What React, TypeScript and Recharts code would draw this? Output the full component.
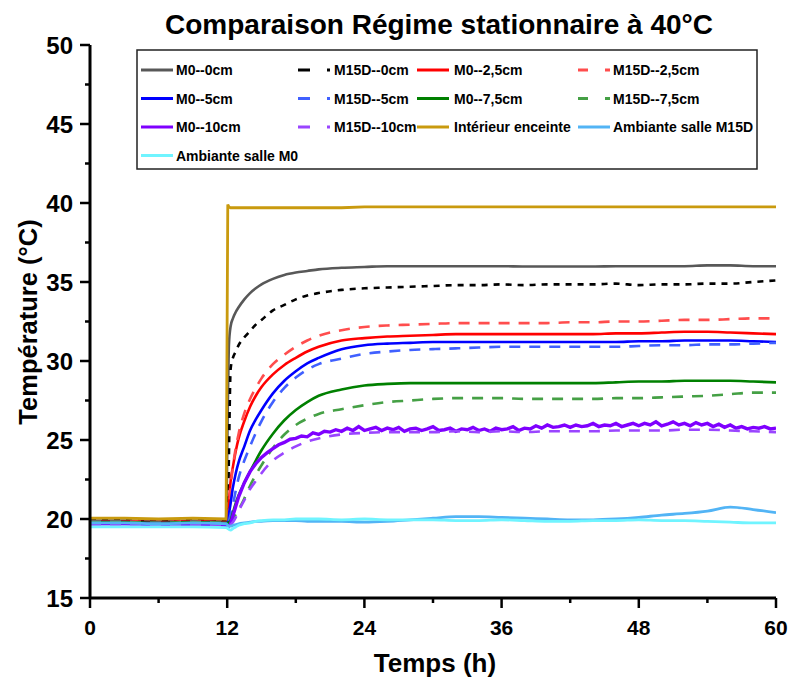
import React, { useLayoutEffect } from "react";
import { LineChart, Line, XAxis, YAxis } from "recharts";

// Common time grid (h)
const TIMES = [0, 3, 6, 9, 11.9, 12.05, 12.15, 12.3, 12.5, 12.75, 13, 13.5, 14, 14.5, 15, 16, 17, 18, 19, 20, 22, 24, 26, 28, 30, 32, 34, 36, 38, 40, 42, 44, 46, 48, 50, 52, 54, 56, 58, 60];

const M0_0 = [19.9, 19.9, 19.85, 19.9, 19.9, 27.0, 31.0, 32.2, 32.7, 33.1, 33.4, 33.9, 34.3, 34.6, 34.85, 35.2, 35.45, 35.6, 35.7, 35.8, 35.9, 35.95, 36.0, 36.0, 36.0, 36.0, 36.0, 36.0, 35.98, 35.98, 35.98, 35.98, 36.0, 36.0, 36.0, 36.0, 36.05, 36.05, 36.0, 36.0];
const M15D_0 = [19.9, 19.9, 19.85, 19.9, 19.85, 20.0, 24.0, 29.5, 30.2, 30.6, 31.0, 31.5, 31.9, 32.3, 32.6, 33.2, 33.55, 33.9, 34.15, 34.3, 34.5, 34.6, 34.65, 34.7, 34.75, 34.8, 34.8, 34.85, 34.8, 34.85, 34.85, 34.85, 34.9, 34.8, 34.85, 34.85, 34.9, 34.9, 35.0, 35.1];
const M0_25 = [19.85, 19.85, 19.8, 19.85, 19.8, 19.9, 21.0, 22.4, 23.3, 24.3, 25.1, 26.2, 27.1, 27.8, 28.35, 29.15, 29.75, 30.2, 30.6, 30.9, 31.3, 31.45, 31.55, 31.6, 31.65, 31.7, 31.7, 31.7, 31.7, 31.7, 31.7, 31.7, 31.75, 31.75, 31.8, 31.85, 31.85, 31.8, 31.75, 31.7];
const M15D_25 = [19.85, 19.85, 19.8, 19.85, 19.8, 19.85, 20.5, 22.0, 23.3, 24.5, 25.4, 26.7, 27.6, 28.3, 28.9, 29.8, 30.4, 30.9, 31.3, 31.6, 31.95, 32.15, 32.25, 32.3, 32.35, 32.4, 32.4, 32.4, 32.4, 32.4, 32.45, 32.45, 32.5, 32.5, 32.55, 32.6, 32.6, 32.65, 32.7, 32.7];
const M0_5 = [19.8, 19.8, 19.75, 19.8, 19.75, 19.8, 20.3, 21.0, 22.0, 22.9, 23.6, 24.6, 25.6, 26.3, 26.9, 27.95, 28.75, 29.35, 29.85, 30.2, 30.75, 31.0, 31.1, 31.15, 31.2, 31.2, 31.2, 31.2, 31.2, 31.2, 31.2, 31.2, 31.2, 31.25, 31.25, 31.3, 31.3, 31.3, 31.25, 31.2];
const M15D_5 = [19.8, 19.8, 19.75, 19.8, 19.75, 19.75, 19.9, 20.3, 20.9, 21.8, 22.6, 23.7, 24.6, 25.45, 26.2, 27.4, 28.3, 28.95, 29.45, 29.8, 30.15, 30.45, 30.6, 30.7, 30.75, 30.8, 30.85, 30.9, 30.9, 30.9, 30.9, 30.9, 30.9, 30.95, 31.0, 31.0, 31.05, 31.05, 31.1, 31.15];
const M0_75 = [19.8, 19.8, 19.75, 19.8, 19.75, 19.75, 19.8, 19.9, 20.4, 21.0, 21.5, 22.3, 23.0, 23.7, 24.35, 25.4, 26.25, 26.9, 27.4, 27.8, 28.2, 28.45, 28.55, 28.6, 28.6, 28.6, 28.6, 28.6, 28.6, 28.6, 28.6, 28.6, 28.65, 28.7, 28.7, 28.75, 28.75, 28.75, 28.7, 28.65];
const M15D_75 = [19.8, 19.8, 19.75, 19.8, 19.75, 19.7, 19.7, 19.75, 19.9, 20.3, 20.6, 21.3, 22.1, 22.8, 23.4, 24.5, 25.35, 25.95, 26.35, 26.65, 26.95, 27.2, 27.4, 27.5, 27.6, 27.65, 27.65, 27.65, 27.6, 27.6, 27.6, 27.6, 27.65, 27.65, 27.7, 27.75, 27.8, 27.9, 28.0, 28.0];
const M15D_10 = [19.65, 19.65, 19.6, 19.65, 19.6, 19.6, 19.6, 19.65, 19.8, 20.1, 20.5, 21.2, 21.9, 22.4, 22.9, 23.7, 24.2, 24.6, 24.9, 25.1, 25.35, 25.45, 25.5, 25.5, 25.5, 25.55, 25.5, 25.55, 25.5, 25.55, 25.55, 25.55, 25.6, 25.6, 25.6, 25.65, 25.65, 25.6, 25.55, 25.5];
const INTERIEUR = [20.05, 20.05, 20.0, 20.05, 20.0, 39.9, 39.75, 39.7, 39.7, 39.7, 39.7, 39.7, 39.7, 39.7, 39.7, 39.7, 39.7, 39.7, 39.7, 39.7, 39.7, 39.75, 39.75, 39.75, 39.75, 39.75, 39.75, 39.75, 39.75, 39.75, 39.75, 39.75, 39.75, 39.75, 39.75, 39.75, 39.75, 39.75, 39.75, 39.75];
const AMB_M15D = [19.75, 19.75, 19.7, 19.75, 19.7, 19.6, 19.55, 19.55, 19.6, 19.65, 19.7, 19.75, 19.8, 19.85, 19.85, 19.9, 19.9, 19.9, 19.85, 19.85, 19.85, 19.8, 19.85, 19.95, 20.05, 20.15, 20.15, 20.1, 20.05, 20.0, 19.95, 19.95, 20.0, 20.1, 20.25, 20.35, 20.5, 20.75, 20.6, 20.4];
const AMB_M0 = [19.5, 19.5, 19.5, 19.5, 19.45, 19.4, 19.35, 19.3, 19.4, 19.5, 19.6, 19.7, 19.75, 19.85, 19.9, 19.95, 19.95, 20.0, 20.0, 20.0, 19.95, 20.0, 19.95, 19.95, 19.95, 19.9, 19.9, 19.95, 19.9, 19.85, 19.85, 19.9, 19.9, 19.95, 19.9, 19.9, 19.85, 19.8, 19.75, 19.75];

// M0--10cm is noisy: its own finer sampling
const M0_10_TIMES = [0, 3, 6, 9, 11.9, 12.05, 12.15, 12.3, 12.5, 12.75, 13, 13.5, 14, 14.5, 15,
  15.5, 16, 16.5, 17, 17.5, 18, 18.5, 19, 19.5, 20, 20.5, 21, 21.5, 22, 22.5, 23, 23.5, 24, 24.5, 25,
  25.5, 26, 26.5, 27, 27.5, 28, 28.5, 29, 29.5, 30, 30.5, 31, 31.5, 32, 32.5, 33, 33.5, 34, 34.5, 35,
  35.5, 36, 36.5, 37, 37.5, 38, 38.5, 39, 39.5, 40, 40.5, 41, 41.5, 42, 42.5, 43, 43.5, 44, 44.5, 45,
  45.5, 46, 46.5, 47, 47.5, 48, 48.5, 49, 49.5, 50, 50.5, 51, 51.5, 52, 52.5, 53, 53.5, 54, 54.5, 55,
  55.5, 56, 56.5, 57, 57.5, 58, 58.5, 59, 59.5, 60];
const M0_10 = [19.7, 19.7, 19.65, 19.65, 19.6, 19.55, 19.55, 19.7, 20.2, 20.8, 21.4, 22.3, 23.0, 23.5, 23.9,
  24.2, 24.45, 24.7, 24.85, 25.05, 25.1, 25.25, 25.2, 25.45, 25.35, 25.55, 25.5, 25.65, 25.55, 25.75, 25.6, 25.85, 25.6, 25.7, 25.8,
  25.6, 25.75, 25.65, 25.8, 25.55, 25.7, 25.75, 25.6, 25.7, 25.85, 25.6, 25.65, 25.75, 25.55, 25.7, 25.65, 25.8, 25.6, 25.7, 25.55,
  25.75, 25.65, 25.7, 25.85, 25.6, 25.75, 25.7, 25.9, 25.75, 25.95, 25.8, 25.85, 25.95, 25.8, 25.95, 25.85, 25.9, 26.05, 25.85, 25.95,
  25.9, 26.05, 25.85, 25.95, 26.05, 25.9, 26.05, 25.95, 26.15, 25.9, 26.0, 26.15, 25.95, 26.05, 25.9, 26.1, 25.95, 26.05, 25.85, 26.0,
  25.8, 25.95, 25.75, 25.85, 25.7, 25.8, 25.75, 25.85, 25.7, 25.75];

const X_TICKS = [0, 6, 12, 18, 24, 30, 36, 42, 48, 54, 60];
const Y_TICKS = [15, 17.5, 20, 22.5, 25, 27.5, 30, 32.5, 35, 37.5, 40, 42.5, 45, 47.5, 50];

const ROWS = TIMES.map((t, i) => ({
  t,
  m0_0: M0_0[i], m15_0: M15D_0[i], m0_25: M0_25[i], m15_25: M15D_25[i],
  m0_5: M0_5[i], m15_5: M15D_5[i], m0_75: M0_75[i], m15_75: M15D_75[i],
  m15_10: M15D_10[i], gold: INTERIEUR[i], amb15: AMB_M15D[i], amb0: AMB_M0[i],
}));
const PURPLE_ROWS = M0_10_TIMES.map((t, i) => ({ t, v: M0_10[i] }));

const FONT = '"Liberation Sans", Arial, sans-serif';

type S = { key: string; name: string; color: string; dash?: string; width: number };
const SERIES: S[] = [
  { key: "m0_0", name: "M0--0cm", color: "#585858", width: 2.6 },
  { key: "m15_0", name: "M15D--0cm", color: "#000000", dash: "6 6", width: 2.6 },
  { key: "m0_25", name: "M0--2,5cm", color: "#FF0000", width: 2.6 },
  { key: "m15_25", name: "M15D--2,5cm", color: "#FF4D4D", dash: "11 9", width: 2.6 },
  { key: "m0_5", name: "M0--5cm", color: "#0000FF", width: 2.6 },
  { key: "m15_5", name: "M15D--5cm", color: "#4060FF", dash: "11 9", width: 2.6 },
  { key: "m0_75", name: "M0--7,5cm", color: "#008000", width: 2.6 },
  { key: "m15_75", name: "M15D--7,5cm", color: "#45A045", dash: "11 9", width: 2.6 },
  { key: "m0_10", name: "M0--10cm", color: "#7F00FF", width: 3.4 },
  { key: "m15_10", name: "M15D--10cm", color: "#9A45FF", dash: "11 9", width: 2.6 },
  { key: "gold", name: "Intérieur enceinte", color: "#C99A0E", width: 2.8 },
  { key: "amb15", name: "Ambiante salle M15D", color: "#52B4F5", width: 2.8 },
  { key: "amb0", name: "Ambiante salle M0", color: "#70F4FF", width: 2.8 },
];

const XTick = (props: any) => {
  const { x, y, payload } = props;
  const major = payload.value % 12 === 0;
  return (
    <g>
      <line x1={x} x2={x} y1={y} y2={y + (major ? 10 : 5)} stroke="#000" strokeWidth={2.5} />
      {major && (
        <text x={x} y={y + 37} textAnchor="middle" fontSize={21} fontWeight="bold" fontFamily={FONT} fill="#000">
          {payload.value}
        </text>
      )}
    </g>
  );
};

const YTick = (props: any) => {
  const { x, y, payload } = props;
  const major = payload.value % 5 === 0;
  return (
    <g>
      <line x1={x - (major ? 10 : 5)} x2={x} y1={y} y2={y} stroke="#000" strokeWidth={2.5} />
      {major && (
        <text x={x - 17} y={y + 9} textAnchor="end" fontSize={24} fontWeight="bold" fontFamily={FONT} fill="#000">
          {payload.value}
        </text>
      )}
    </g>
  );
};

// page coordinates
const COL_LINE_X = [141, 298, 417, 578];
const COL_TEXT_X = [176, 334, 454, 613];
const ROW_Y = [70, 98.5, 127, 155.5];

export default function App() {
  useLayoutEffect(() => {
    document.documentElement.style.overflow = "hidden";
    document.body.style.margin = "0";
    document.body.style.overflow = "hidden";
  }, []);
  return (
    <div style={{ position: "relative", width: 788, height: 686, overflow: "visible" }}>
      <LineChart width={788} height={686} data={ROWS} margin={{ top: 45, right: 12, bottom: 38, left: 30 }}
        style={{ overflow: "visible" }}>
        <XAxis dataKey="t" type="number" domain={[0, 60]} ticks={X_TICKS} interval={0}
          tick={<XTick />} tickLine={false} tickSize={0} tickMargin={0} height={50}
          axisLine={{ stroke: "#000", strokeWidth: 3 }} allowDataOverflow />
        <XAxis xAxisId="top" orientation="top" dataKey="t" type="number" domain={[0, 60]} tick={false}
          tickLine={false} height={0} axisLine={{ stroke: "#000", strokeWidth: 2 }} />
        <YAxis type="number" domain={[15, 50]} ticks={Y_TICKS} interval={0} tick={<YTick />}
          tickLine={false} tickSize={0} tickMargin={0} width={60}
          axisLine={{ stroke: "#000", strokeWidth: 3 }} allowDataOverflow />
        <YAxis yAxisId="right" orientation="right" type="number" domain={[15, 50]} tick={false}
          tickLine={false} width={0} axisLine={{ stroke: "#000", strokeWidth: 2 }} />
        {SERIES.map((s) =>
          s.key === "m0_10" ? (
            <Line key={s.key} data={PURPLE_ROWS} dataKey="v" name={s.name} type="linear" stroke={s.color}
              strokeWidth={s.width} dot={false} isAnimationActive={false} />
          ) : (
            <Line key={s.key} dataKey={s.key} name={s.name}
              type={s.key === "gold" ? "linear" : "monotone"} stroke={s.color}
              strokeWidth={s.width} strokeDasharray={s.dash} dot={false} isAnimationActive={false} />
          )
        )}
      </LineChart>
      <svg width={788} height={686} style={{ position: "absolute", left: 0, top: 0, pointerEvents: "none" }}
        fontFamily={FONT} fontWeight="bold">
        <text x={439} y={34} textAnchor="middle" fontSize={28} fill="#000">Comparaison Régime stationnaire à 40°C</text>
        <text x={435} y={672} textAnchor="middle" fontSize={26} fill="#000">Temps (h)</text>
        <text transform="translate(37,322) rotate(-90)" textAnchor="middle" fontSize={25.5} fill="#000">Température (°C)</text>
        <rect x={137} y={50} width={620} height={119} fill="#fff" stroke="#222" strokeWidth={1.5} />
        {SERIES.map((s, i) => {
          const col = i % 4;
          const row = Math.floor(i / 4);
          const lx = COL_LINE_X[col];
          const ly = ROW_Y[row];
          return (
            <g key={s.key}>
              <line x1={lx} x2={lx + 32} y1={ly} y2={ly} stroke={s.color} strokeWidth={3}
                strokeDasharray={s.dash ? (col === 1 ? "12 17" : "10 17") : undefined} />
              <text x={COL_TEXT_X[col]} y={ly + 5} fontSize={14} fill="#000">{s.name}</text>
            </g>
          );
        })}
      </svg>
    </div>
  );
}
